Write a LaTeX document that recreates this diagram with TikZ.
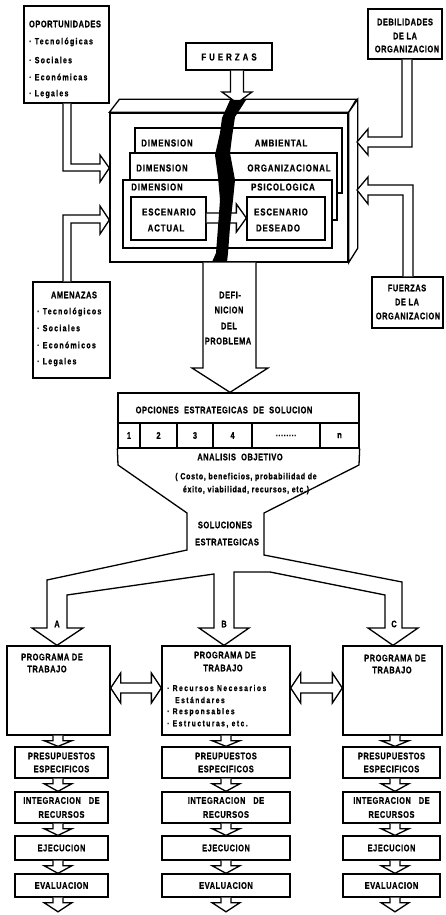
\documentclass[tikz,border=0pt]{standalone}
\usepackage{fontspec}
\setmainfont{Liberation Sans}[FakeStretch=0.78, BoldFeatures={FakeBold=0.8}]
\usetikzlibrary{fit,calc}
\tikzset{
  ln/.style={draw, line width=1.3pt, line join=miter, fill=white},
  box/.style={draw, line width=1.3pt, inner sep=0pt, fill=white},
  lab/.style={font=\fontsize{10}{11}\selectfont\bfseries\addfontfeature{LetterSpace=9}, inner sep=0pt},
  sm/.style={font=\fontsize{9.5}{10}\selectfont\bfseries\addfontfeature{LetterSpace=6}, inner sep=0pt},
  it/.style={font=\fontsize{9}{10}\selectfont\bfseries\addfontfeature{LetterSpace=14}, inner sep=0pt, anchor=west},
  an/.style={font=\fontsize{9}{10}\selectfont\bfseries\addfontfeature{LetterSpace=8}, inner sep=0pt},
  bl/.style={font=\fontsize{8.5}{9}\selectfont\bfseries\addfontfeature{LetterSpace=18}, inner sep=0pt, anchor=west},
  pt/.style={inner sep=0pt, minimum size=0pt},
}
\newcommand\dnarr[3]{%
  \path[ln] let \p1=(#1,0 |- #2.south), \p2=(#1,0 |- #3.north) in
    (\x1-5pt,\y1) -- (\x1-5pt,\y1-5pt) -- (\x1-14pt,\y1-5pt) -- (\x1,\y2) -- (\x1+14pt,\y1-5pt) -- (\x1+5pt,\y1-5pt) -- (\x1+5pt,\y1);}
\newcommand\dblarr[3]{%
  \path[ln] let \p1=(#1.east |- 0,#3), \p2=(#2.west |- 0,#3) in
    (\p1) -- (\x1+10pt,\y1+15pt) -- (\x1+10pt,\y1+5pt) -- (\x2-10pt,\y1+5pt) -- (\x2-10pt,\y1+15pt) -- (\p2) -- (\x2-10pt,\y1-15pt) -- (\x2-10pt,\y1-5pt) -- (\x1+10pt,\y1-5pt) -- (\x1+10pt,\y1-15pt) -- cycle;}
\begin{document}
\begin{tikzpicture}[x=1pt,y=-1pt]
\fill[white] (0,0) rectangle (445,915);
\useasboundingbox (0,0) rectangle (445,915);

% ---------- top boxes
\node[box, fit={(24,6)(109,103)}] (opo) {};
\node[sm] (opoT) at (65,24) {OPORTUNIDADES};
\node[it] (opo1) at (29,42) {· Tecnológicas};
\node[it] (opo2) at (29,60) {· Sociales};
\node[it] (opo3) at (29,77) {· Económicas};
\node[it] (opo4) at (29,94) {· Legales};

\node[box, fit={(368,9)(442,59)}] (deb) {};
\node[sm] (deb1) at (405,22) {DEBILIDADES};
\node[sm] (deb2) at (405,36) {DE LA};
\node[sm] (deb3) at (407,49) {ORGANIZACION};

\node[box, fit={(186,43)(272,70)}] (fue) {};
\node[lab] (fueT) at (229,57) {F U E R Z A S};

% ---------- 3D block
\node[box, fit={(110,113)(348,262)}] (block) {};
\path[ln] (block.north west) -- ++(10,-13) -- ++(237,0) -- (block.north east) -- cycle;
\path[ln] (block.north east) -- ++(9,-13) -- ++(0,149) -- (block.south east) -- cycle;

\node[box, fit={(135,128)(342,193)}] (card1) {};
\node[box, fit={(130,153)(337,220)}] (card2) {};
\node[box, fit={(123,180)(332,248)}] (card3) {};
\node[lab] (d1a) at (167,143) {DIMENSION};
\node[lab] (d1b) at (281,143) {AMBIENTAL};
\node[lab] (d2a) at (162,168) {DIMENSION};
\node[lab] (d2b) at (289,168) {ORGANIZACIONAL};
\node[lab] (d3a) at (157,187) {DIMENSION};
\node[lab] (d3b) at (283,187) {PSICOLOGICA};

\node[box, fit={(131,197)(206,240)}] (esa) {};
\node[box, fit={(247,197)(325,240)}] (esd) {};
\node[lab] (esa1) at (169,212) {ESCENARIO};
\node[lab] (esa2) at (166,228) {ACTUAL};
\node[lab] (esd1) at (281,212) {ESCENARIO};
\node[lab] (esd2) at (278,228) {DESEADO};
\path[ln] let \p1=(esa.east |- 0,218), \p2=(esd.west |- 0,218) in
  (\x1,\y1+5pt) -- (\x2-10pt,\y1+5pt) -- (\x2-10pt,\y1+14pt) -- (\p2) -- (\x2-10pt,\y1-14pt) -- (\x2-10pt,\y1-5pt) -- (\x1,\y1-5pt);

% FUERZAS arrow
\coordinate (fueTip) at (237,103);
\path[ln] let \p1=(237,0 |- fue.south), \p2=(fueTip) in
  (\x1-6.5pt,\y1) -- (\x1-6.5pt,\y2+11pt) -- (\x1-15pt,\y2+11pt) -- (\p2) -- (\x1+15pt,\y2+11pt) -- (\x1+6.5pt,\y2+11pt) -- (\x1+6.5pt,\y1);

% crack
\fill[black] (230,100) -- (222,118) -- (220,133) -- (215,155) -- (218,177) -- (220,200) -- (218,227) -- (216,253) -- (212,262)
  -- (227,262) -- (228,253) -- (230,227) -- (233,200) -- (235,180) -- (230,153) -- (232,137) -- (235,117) -- (246,100) -- cycle;

% ---------- side boxes
\node[box, fit={(33,282)(110,378)}] (ame) {};
\node[sm] (ameT) at (74,295) {AMENAZAS};
\node[it] (ame1) at (37,312) {· Tecnológicos};
\node[it] (ame2) at (37,328) {· Sociales};
\node[it] (ame3) at (37,345) {· Económicos};
\node[it] (ame4) at (37,362) {· Legales};

\node[box, fit={(372,277)(443,328)}] (forg) {};
\node[sm] (forg1) at (407,288) {FUERZAS};
\node[sm] (forg2) at (407,302) {DE LA};
\node[sm] (forg3) at (408,316) {ORGANIZACION};

% bent arrows into the block
\path[ln] (63,0 |- opo.south) -- (63,171) -- (100,171) -- (100,182) -- (block.west |- 0,168) -- (100,155) -- (100,164) -- (71,164) -- (71,0 |- opo.south);
\path[ln] (63,0 |- ame.north) -- (63,215) -- (100,215) -- (100,206) -- (block.west |- 0,220) -- (100,234) -- (100,223) -- (71,223) -- (71,0 |- ame.north);
\path[ln] (402,0 |- deb.south) -- (402,137) -- (368,137) -- (368,129) -- (357,142) -- (368,155) -- (368,147) -- (412,147) -- (412,0 |- deb.south);
\path[ln] (403,0 |- forg.north) -- (403,195) -- (368,195) -- (368,204) -- (357,190) -- (368,177) -- (368,185) -- (413,185) -- (413,0 |- forg.north);

% ---------- options funnel
\node[box, fit={(118,393)(359,423)}] (opc) {};
\node[sm] (opcT) at (224,410) {OPCIONES\ \ ESTRATEGICAS\ \ DE\ \ SOLUCION};
\node[box, fit={(118,423)(140,448)}] (c1) {};
\node[box, fit={(140,423)(177,448)}] (c2) {};
\node[box, fit={(177,423)(213,448)}] (c3) {};
\node[box, fit={(213,423)(252,448)}] (c4) {};
\node[box, fit={(252,423)(320,448)}] (c5) {};
\node[box, fit={(320,423)(359,448)}] (c6) {};
\node[sm] (n1) at (c1) {1};
\node[sm] (n2) at (c2) {2};
\node[sm] (n3) at (c3) {3};
\node[sm] (n4) at (c4) {4};
\node[sm] (n5) at (c5) {........};
\node[sm] (n6) at (c6) {n};

% DEFINICION arrow
\path[ln] (203,0 |- block.south) -- (203,368) -- (192,368) -- (230,0 |- opc.north) -- (268,368) -- (256,368) -- (256,0 |- block.south);
\node[sm] (def1) at (230,295) {DEFI-};
\node[sm] (def2) at (229,310) {NICION};
\node[sm] (def3) at (229,326) {DEL};
\node[sm] (def4) at (228,341) {PROBLEMA};

% ---------- programs
\node[box, fit={(7,646)(110,735)}] (progA) {};
\node[box, fit={(162,646)(290,735)}] (progB) {};
\node[box, fit={(343,646)(442,735)}] (progC) {};

\draw[line width=1.3pt, line join=miter] (c1.south west) -- (118,465) -- (187,513) -- (187,550) -- (47,580) -- (47,628)
  -- (32,628) -- (57,0 |- progA.north) -- (83,628) -- (67,628) -- (67,595) -- (214,574) -- (214,628)
  -- (199,628) -- (224,0 |- progB.north) -- (249,628) -- (234,628) -- (234,572) -- (270,572) -- (385,595) -- (385,628)
  -- (368,628) -- (393,0 |- progC.north) -- (418,628) -- (402,628) -- (402,582) -- (264,555) -- (264,513) -- (359,465) -- (c6.south east);
\node[sm] (ana) at (240,457) {ANALISIS\ \ OBJETIVO};
\node[an] (ana1) at (246,477) {( Costo, beneficios, probabilidad de};
\node[an] (ana2) at (246,490) {éxito, viabilidad, recursos, etc.)};
\node[sm] (sol1) at (225,525) {SOLUCIONES};
\node[sm] (sol2) at (227,542) {ESTRATEGICAS};
\node[sm] (lA) at (57,624) {A};
\node[sm] (lB) at (224,624) {B};
\node[sm] (lC) at (394,624) {C};

\node[sm] (pA1) at (52,657) {PROGRAMA DE};
\node[sm] (pA2) at (47,669) {TRABAJO};
\node[sm] (pB1) at (225,655) {PROGRAMA DE};
\node[sm] (pB2) at (223,668) {TRABAJO};
\node[bl] (pB3) at (167,688) {· Recursos Necesarios};
\node[bl] (pB4) at (175,700) {Estándares};
\node[bl] (pB5) at (167,712) {· Responsables};
\node[bl] (pB6) at (167,724) {· Estructuras, etc.};
\node[sm] (pC1) at (395,658) {PROGRAMA DE};
\node[sm] (pC2) at (392,670) {TRABAJO};

\dblarr{progA}{progB}{688}
\dblarr{progB}{progC}{688}

% ---------- columns
\foreach \c/\xa/\xb/\xm/\pr in {A/15/108/58/PRESUPUESTOS, B/162/290/226/PREUPUESTOS, C/343/440/395/PRESUPUESTOS}{
  \node[box, fit={(\xa,747)(\xb,778)}] (pres\c) {};
  \node[box, fit={(\xa,792)(\xb,823)}] (int\c) {};
  \node[box, fit={(\xa,836)(\xb,860)}] (eje\c) {};
  \node[box, fit={(\xa,874)(\xb,897)}] (eva\c) {};
  \node[pt] (end\c) at (\xm,912) {};
  \node[sm] (pres\c1) at ([yshift=6.5pt]pres\c.center) {\pr};
  \node[sm] (pres\c2) at ([yshift=-6.5pt]pres\c.center) {ESPECIFICOS};
  \node[sm] (int\c1) at ([yshift=7pt]int\c.center) {INTEGRACION\ \ \ DE};
  \node[sm] (int\c2) at ([yshift=-7pt]int\c.center) {RECURSOS};
  \node[sm] (eje\c1) at (eje\c.center) {EJECUCION};
  \node[sm] (eva\c1) at (eva\c.center) {EVALUACION};
  \dnarr{\xm}{prog\c}{pres\c}
  \dnarr{\xm}{pres\c}{int\c}
  \dnarr{\xm}{int\c}{eje\c}
  \dnarr{\xm}{eje\c}{eva\c}
  \dnarr{\xm}{eva\c}{end\c}
}
\end{tikzpicture}
\end{document}
